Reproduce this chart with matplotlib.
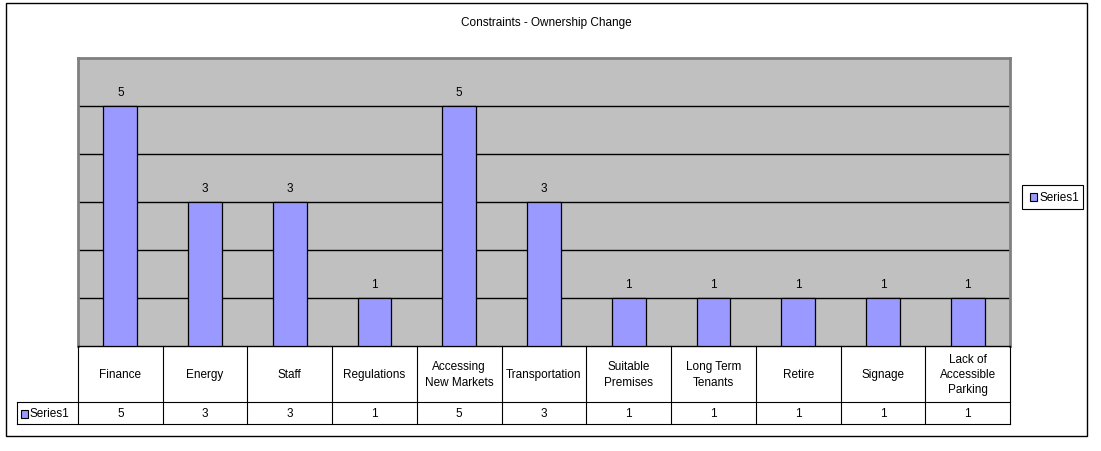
import matplotlib.pyplot as plt
from matplotlib.patches import Rectangle
from matplotlib.lines import Line2D
from matplotlib.transforms import blended_transform_factory

categories = ["Finance", "Energy", "Staff", "Regulations", "Accessing\nNew Markets",
              "Transportation", "Suitable\nPremises", "Long Term\nTenants", "Retire",
              "Signage", "Lack of\nAccessible\nParking"]
series1 = [5, 3, 3, 1, 5, 3, 1, 1, 1, 1, 1]
series_name = "Series1"
title = "Constraints - Ownership Change"

W, H = 1101, 452
FS = 8.5
BAR = '#9999ff'
plt.rcParams['font.family'] = ['Liberation Sans', 'DejaVu Sans']
fig = plt.figure(figsize=(W / 100, H / 100), dpi=100)


def fx(px):
    return px / W


def fy(py):
    return 1 - py / H


# outer chart frame
fig.patches.append(Rectangle((fx(6), fy(437)), fx(1087) - fx(6), fy(4) - fy(437),
                             transform=fig.transFigure, fill=False,
                             edgecolor='black', lw=1))
fig.text(fx(546), fy(23), title, ha='center', va='center', fontsize=FS)

# plot area
left, right, top, bottom = 78, 1010, 59, 347
ax = fig.add_axes([fx(left), fy(bottom), fx(right) - fx(left), fy(top) - fy(bottom)])
ax.set_facecolor('#c0c0c0')
xs = list(range(len(categories)))
ax.bar(xs, series1, width=0.4, color=BAR, edgecolor='black', lw=0.9, zorder=3)
ax.set_xlim(-0.5, len(categories) - 0.5)
ax.set_ylim(0, 6)
ax.set_yticks(range(1, 6))
ax.yaxis.grid(True, color='black', lw=1)
ax.set_axisbelow(True)
ax.tick_params(left=False, bottom=False, labelleft=False, labelbottom=False)
for name, s in ax.spines.items():
    s.set_color('#808080')
    s.set_linewidth(2)
ax.spines['bottom'].set_color('black')
ax.spines['bottom'].set_linewidth(1)

for i, v in enumerate(series1):
    ax.annotate(str(v), (i, v), xytext=(0, 10), textcoords='offset points',
                ha='center', va='center', fontsize=FS)

# data table under the plot
tr = blended_transform_factory(ax.transData, fig.transFigure)
row1, row2 = 403, 425
for b in [i - 0.5 for i in range(len(categories) + 1)]:
    fig.lines.append(Line2D([b, b], [fy(bottom), fy(row2)], transform=tr,
                            color='black', lw=0.8))
for yy in (row1, row2):
    fig.lines.append(Line2D([fx(17), fx(right)], [fy(yy), fy(yy)],
                            transform=fig.transFigure, color='black', lw=0.8))
fig.lines.append(Line2D([fx(17), fx(17)], [fy(row1), fy(row2)],
                        transform=fig.transFigure, color='black', lw=0.8))

for i, (c, v) in enumerate(zip(categories, series1)):
    fig.text(i, fy((bottom + row1) / 2), c, transform=tr, ha='center', va='center',
             fontsize=FS, linespacing=1.38)
    fig.text(i, fy((row1 + row2) / 2), str(v), transform=tr, ha='center',
             va='center', fontsize=FS)

fig.patches.append(Rectangle((fx(21), fy(419)), fx(7), fy(0) - fy(8),
                             transform=fig.transFigure, facecolor=BAR,
                             edgecolor='black', lw=0.8))
fig.text(fx(30), fy(414), series_name, ha='left', va='center', fontsize=FS)

# legend
fig.patches.append(Rectangle((fx(1022), fy(210)), fx(61), fy(0) - fy(24),
                             transform=fig.transFigure, facecolor='white',
                             edgecolor='black', lw=0.8))
fig.patches.append(Rectangle((fx(1030), fy(202)), fx(7), fy(0) - fy(8),
                             transform=fig.transFigure, facecolor=BAR,
                             edgecolor='black', lw=0.8))
fig.text(fx(1039), fy(198), series_name, ha='left', va='center', fontsize=FS)

fig.savefig('out.png', dpi=100)
